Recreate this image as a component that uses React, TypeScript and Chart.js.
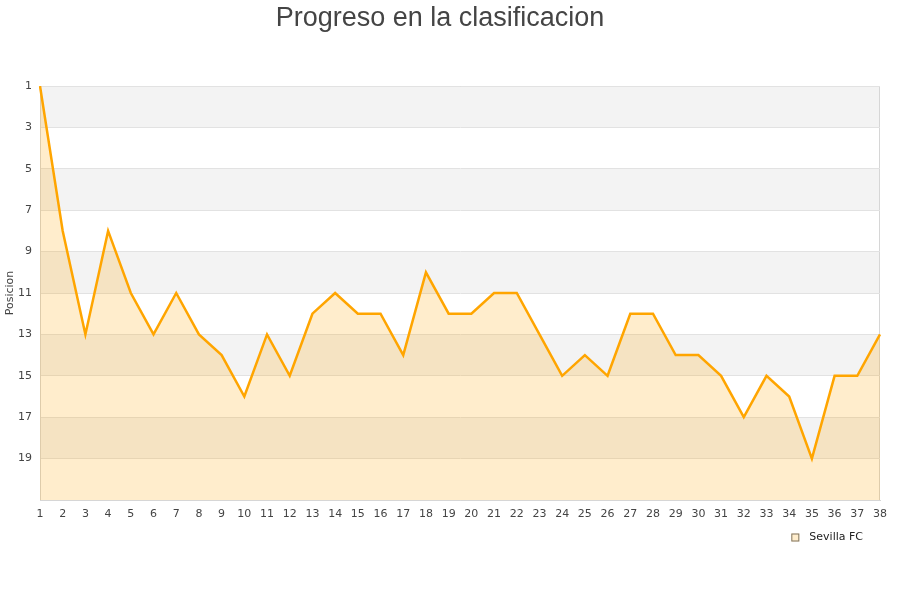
import React, { useEffect, useRef } from 'react';
import { Chart, registerables } from 'chart.js';

Chart.register(...registerables);

const titleText = 'Progreso en la clasificacion';
const teamName = 'Sevilla FC';
const axisTitle = 'Posicion';
const rounds = ['1','2','3','4','5','6','7','8','9','10','11','12','13','14','15','16','17','18','19','20','21','22','23','24','25','26','27','28','29','30','31','32','33','34','35','36','37','38'];
const positions = [1,8,13,8,11,13,11,13,14,16,13,15,12,11,12,12,14,10,12,12,11,11,13,15,14,15,12,12,14,14,15,17,15,16,19,15,15,13];
const yMin = 1;
const yMax = 21;
const bandStarts = [1, 5, 9, 13, 17];

const bandsPlugin = {
  id: 'bands',
  beforeDraw(chart: any) {
    const { ctx, chartArea } = chart;
    const y = chart.scales.y;
    ctx.save();
    ctx.fillStyle = '#f3f3f3';
    for (const s of bandStarts) {
      const p1 = y.getPixelForValue(s);
      const p2 = y.getPixelForValue(s + 2);
      ctx.fillRect(chartArea.left, Math.min(p1, p2), chartArea.right - chartArea.left, Math.abs(p2 - p1));
    }
    ctx.strokeStyle = '#d6d6d6';
    ctx.lineWidth = 1;
    ctx.strokeRect(chartArea.left + 0.5, chartArea.top + 0.5, chartArea.right - chartArea.left - 1, chartArea.bottom - chartArea.top);
    ctx.restore();
  },
  afterDraw(chart: any) {
    const { ctx, chartArea } = chart;
    ctx.save();
    ctx.font = '11px "DejaVu Sans"';
    ctx.fillStyle = '#222';
    ctx.textBaseline = 'middle';
    ctx.textAlign = 'right';
    const textRight = chartArea.right - 17;
    const cy = chartArea.bottom + 37.5;
    ctx.fillText(teamName, textRight, cy);
    const tw = ctx.measureText(teamName).width;
    const bx = textRight - tw - 18;
    ctx.fillStyle = '#ffedcc';
    ctx.fillRect(bx, cy - 4, 8, 8);
    ctx.strokeStyle = '#807560';
    ctx.lineWidth = 1;
    ctx.strokeRect(bx + 0.5, cy - 3.5, 7, 7);
    ctx.restore();
  },
};

export default function App() {
  const ref = useRef<HTMLCanvasElement | null>(null);
  useEffect(() => {
    if (!ref.current) return;
    const chart = new Chart(ref.current, {
      type: 'line',
      data: {
        labels: rounds,
        datasets: [
          {
            label: teamName,
            data: positions,
            borderColor: '#ffa500',
            borderWidth: 2.5,
            backgroundColor: 'rgba(255,165,0,0.2)',
            fill: 'start',
            pointRadius: 0,
            tension: 0,
          },
        ],
      },
      options: {
        animation: false,
        responsive: false,
        maintainAspectRatio: false,
        layout: { padding: { top: 0, left: 0, right: 20, bottom: 70 } },
        plugins: {
          title: {
            display: true,
            text: titleText,
            color: '#444',
            font: { family: 'Liberation Sans, Arial, sans-serif', size: 27, weight: 'normal' },
            padding: { top: 2.5, bottom: 86 - 32.4 - 2.5 },
          },
          legend: { display: false },
          tooltip: { enabled: false },
        },
        scales: {
          x: {
            type: 'category',
            offset: false,
            grid: { display: false, drawTicks: false },
            border: { display: true, color: '#d6d6d6' },
            ticks: {
              color: '#444',
              font: { family: 'DejaVu Sans', size: 11 },
              padding: 8,
              maxRotation: 0,
              autoSkip: false,
            },
            afterFit: (s: any) => { s.height = 30; },
          },
          y: {
            type: 'linear',
            reverse: true,
            min: yMin,
            max: yMax,
            grid: { color: '#e2e2e2', drawTicks: false },
            border: { display: true, color: '#d6d6d6' },
            ticks: {
              stepSize: 2,
              color: '#444',
              font: { family: 'DejaVu Sans', size: 11 },
              padding: 8,
              callback: (v: any) => (v === yMax ? '' : String(v)),
            },
            title: {
              display: true,
              text: axisTitle,
              color: '#444',
              font: { family: 'DejaVu Sans', size: 11 },
              padding: { top: 3.5, bottom: 0 },
            },
            afterFit: (s: any) => { s.width = 40; },
          },
        },
      },
      plugins: [bandsPlugin],
    });
    return () => chart.destroy();
  }, []);
  return (
    <div style={{ position: 'fixed', left: 0, top: 0, width: 900, height: 600, background: '#fff' }}>
      <canvas ref={ref} width={900} height={600} style={{ width: 900, height: 600, display: 'block' }} />
    </div>
  );
}
